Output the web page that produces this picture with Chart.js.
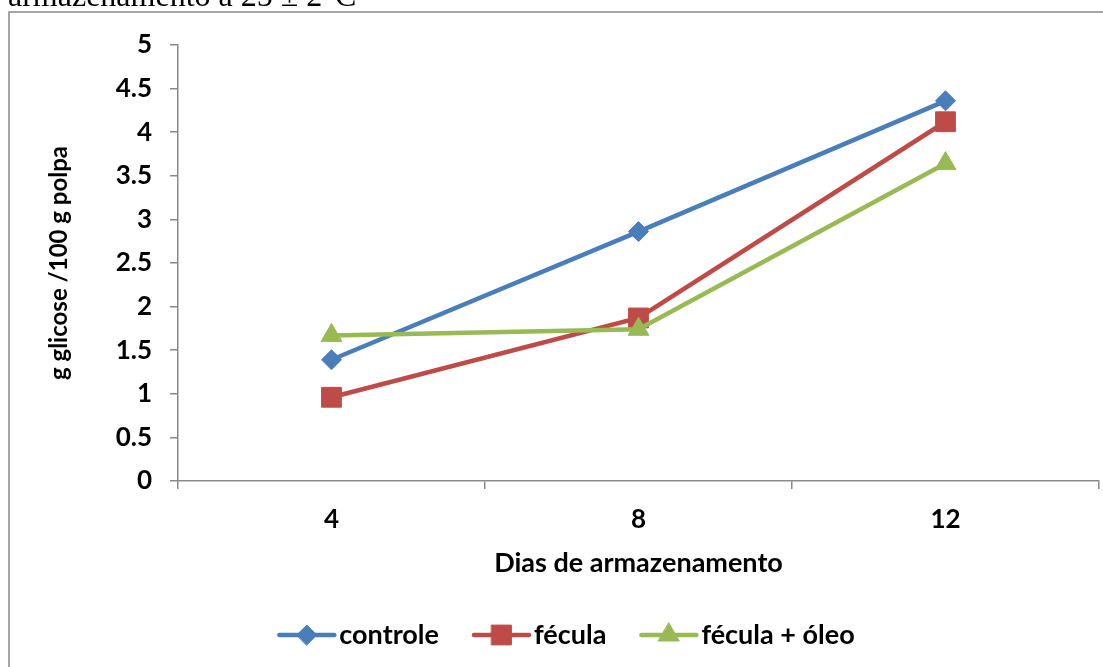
<!DOCTYPE html>
<html>
<head>
<meta charset="utf-8">
<script src="https://cdn.jsdelivr.net/npm/chart.js@4/dist/chart.umd.min.js"></script>
<style>
  html, body { margin: 0; padding: 0; background: #fff; overflow: hidden; }
  canvas { display: block; }
</style>
</head>
<body>
<canvas id="c" width="1103" height="667"></canvas>
<script>
// Storage days (categories)
const days = ['4', '8', '12'];
// Glucose (g / 100 g pulp) per treatment
const controle = [1.39, 2.86, 4.36];
const fecula = [0.96, 1.87, 4.12];
const feculaOleo = [1.67, 1.74, 3.64];
// Series names and y tick values / labels
const seriesNames = ['controle', 'fécula', 'fécula + óleo'];
const yTicks = [0, 0.5, 1, 1.5, 2, 2.5, 3, 3.5, 4, 4.5, 5];
const yTickLabels = ['0', '0.5', '1', '1.5', '2', '2.5', '3', '3.5', '4', '4.5', '5'];

const FONT = 'Lato';
const AXIS_GREY = '#898989';

// Caption line above the frame and the frame around the chart
const framePlugin = {
  id: 'frame',
  beforeDraw(chart) {
    const ctx = chart.ctx;
    ctx.save();
    ctx.fillStyle = '#fff';
    ctx.fillRect(0, 0, chart.width, chart.height);
    ctx.fillStyle = '#000';
    ctx.font = '32px "Liberation Serif"';
    ctx.textBaseline = 'alphabetic';
    ctx.textAlign = 'left';
    ctx.fillText('armazenamento a 25 \u00B1 2\u00B0C', 8, 6);
    ctx.strokeStyle = AXIS_GREY;
    ctx.lineWidth = 1.5;
    ctx.beginPath();
    ctx.moveTo(9, chart.height + 5);
    ctx.lineTo(9, 12);
    ctx.lineTo(chart.width + 5, 12);
    ctx.stroke();
    ctx.restore();
  }
};

// Legend: a short line with the series marker in its middle, then the name
const lineLegend = {
  id: 'lineLegend',
  afterDraw(chart) {
    const ctx = chart.ctx;
    const sets = chart.data.datasets;
    const lineLen = 55, gapText = 5, gapItem = 35, cy = 635, cx = 567;
    ctx.save();
    ctx.font = 'bold 27px ' + FONT;
    const widths = sets.map(d => lineLen + gapText + ctx.measureText(d.label).width);
    const total = widths.reduce((a, b) => a + b, 0) + gapItem * (sets.length - 1);
    let x = cx - total / 2;
    sets.forEach((d, i) => {
      ctx.strokeStyle = d.borderColor;
      ctx.lineWidth = d.borderWidth;
      ctx.lineCap = 'round';
      ctx.beginPath();
      ctx.moveTo(x, cy);
      ctx.lineTo(x + lineLen, cy);
      ctx.stroke();
      ctx.fillStyle = d.pointBackgroundColor;
      ctx.strokeStyle = d.pointBackgroundColor;
      ctx.lineWidth = 1;
      Chart.helpers.drawPoint(ctx, {
        pointStyle: d.pointStyle, radius: d.pointRadius, rotation: 0, borderWidth: 1
      }, x + lineLen / 2, cy);
      ctx.fillStyle = '#000';
      ctx.textAlign = 'left';
      ctx.textBaseline = 'middle';
      ctx.fillText(d.label, x + lineLen + gapText, cy);
      x += widths[i] + gapItem;
    });
    ctx.restore();
  }
};

function series(label, data, color, style, radius, order) {
  return {
    label, data, order,
    borderColor: color,
    backgroundColor: color,
    borderWidth: 4.5,
    pointStyle: style,
    pointRadius: radius,
    pointHoverRadius: radius,
    pointBackgroundColor: color,
    pointBorderColor: color,
    pointBorderWidth: 1,
    tension: 0,
    clip: false
  };
}

new Chart(document.getElementById('c'), {
  type: 'line',
  data: {
    labels: days,
    datasets: [
      series(seriesNames[0], controle, '#4A7EBB', 'rectRot', 10, 2),
      series(seriesNames[1], fecula, '#BE4B48', 'rect', 14, 1),
      series(seriesNames[2], feculaOleo, '#98B954', 'triangle', 12, 0)
    ]
  },
  options: {
    responsive: false,
    animation: false,
    events: [],
    layout: { autoPadding: false, padding: { left: 9, top: 45, right: 4, bottom: 0 } },
    plugins: {
      legend: { display: false },
      tooltip: { enabled: false }
    },
    scales: {
      x: {
        offset: true,
        grid: {
          offset: true, drawOnChartArea: false, drawTicks: true,
          tickLength: 8, color: AXIS_GREY, lineWidth: 1.5
        },
        border: { color: AXIS_GREY, width: 1.5 },
        ticks: { color: '#000', padding: 15, font: { family: FONT, size: 26, weight: 'bold' } },
        title: {
          display: true, text: 'Dias de armazenamento', color: '#000',
          font: { family: FONT, size: 27, weight: 'bold' },
          padding: { top: 0, bottom: 88 }
        },
        afterFit(scale) {
          scale.height = 186;
          scale.paddingLeft = 0;
          scale.paddingRight = 0;
        }
      },
      y: {
        min: 0, max: 5,
        afterBuildTicks(scale) { scale.ticks = yTicks.map(v => ({ value: v })); },
        grid: {
          drawOnChartArea: false, drawTicks: true,
          tickLength: 8, color: AXIS_GREY, lineWidth: 1.5
        },
        border: { color: AXIS_GREY, width: 1.5 },
        ticks: {
          color: '#000', padding: 18,
          font: { family: FONT, size: 26, weight: 'bold' },
          callback: (v, i) => yTickLabels[i]
        },
        title: {
          display: true, text: 'g glicose /100 g polpa', color: '#000',
          font: { family: FONT, size: 24, weight: 'bold' },
          padding: { top: 36, bottom: 0 }
        },
        afterFit(scale) { scale.width = 169; }
      }
    }
  },
  plugins: [framePlugin, lineLegend]
});
</script>
</body>
</html>
